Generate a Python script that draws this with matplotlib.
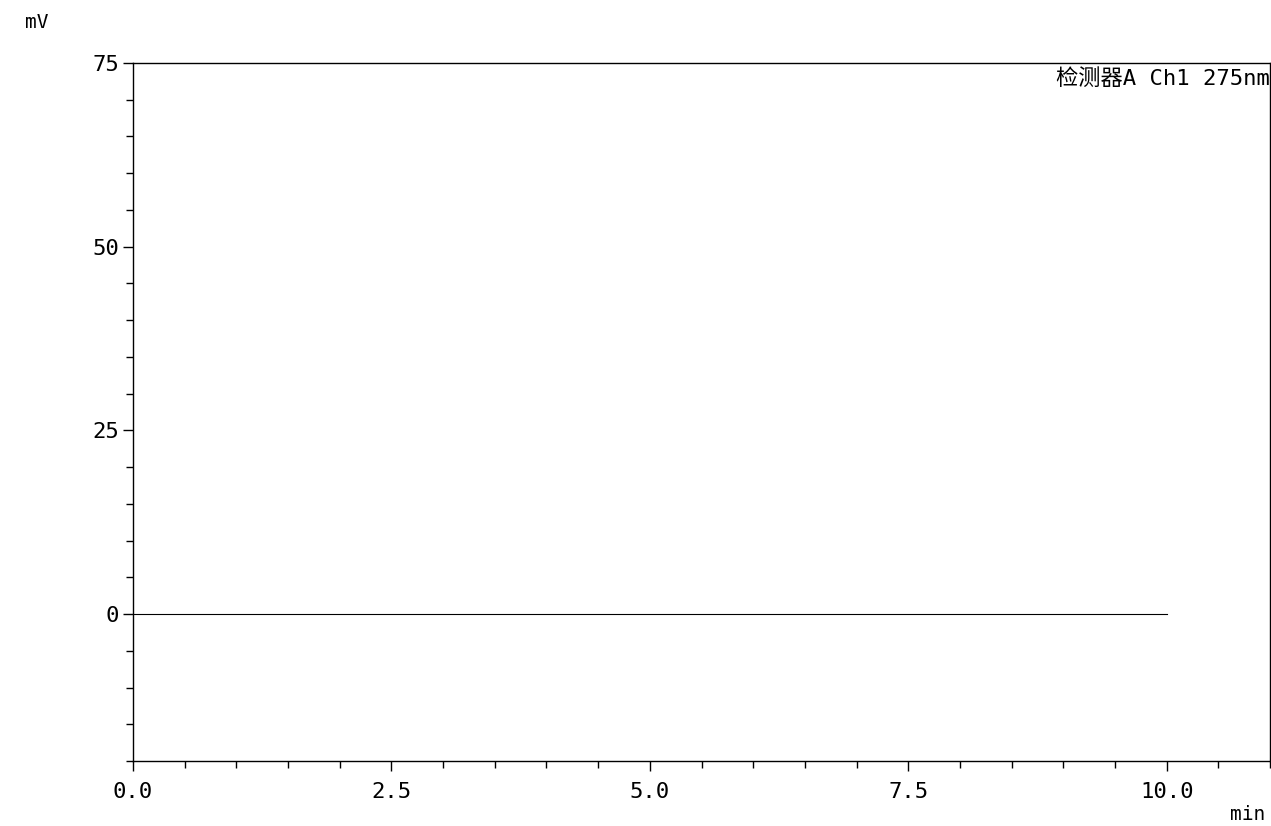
import matplotlib
matplotlib.use("Agg")
import matplotlib.pyplot as plt
from matplotlib.ticker import MultipleLocator, FuncFormatter

time_min = [0.0, 2.5, 5.0, 7.5, 10.0]
signal_mv = [0.0, 0.0, 0.0, 0.0, 0.0]

plt.rcParams['font.family'] = ['DejaVu Sans Mono', 'Noto Sans CJK SC']
fig = plt.figure(figsize=(12.71, 8.26), dpi=100)
ax = fig.add_axes([133/1271, 1-761/826, (1270-133)/1271, (761-63)/826])
ax.plot(time_min, signal_mv, color='black', lw=0.8)
ax.set_xlim(0, 11)
ax.set_ylim(-20, 75)
ax.xaxis.set_major_locator(MultipleLocator(2.5))
ax.xaxis.set_minor_locator(MultipleLocator(0.5))
ax.yaxis.set_major_locator(MultipleLocator(25))
ax.yaxis.set_minor_locator(MultipleLocator(5))
ax.xaxis.set_major_formatter(FuncFormatter(lambda v, p: f"{v:.1f}"))
ax.yaxis.set_major_formatter(FuncFormatter(lambda v, p: f"{v:.0f}"))
ax.tick_params(which='major', length=7, width=1, labelsize=16, pad=3)
ax.tick_params(axis='x', which='major', pad=8)
ax.tick_params(which='minor', length=5, width=1)
for s in ax.spines.values():
    s.set_linewidth(1)
fig.text(25/1271, 1-22/826, "mV", fontsize=14, ha='left', va='center')
fig.text(1248/1271, 1-815/826, "min", fontsize=14, ha='center', va='center')
ax.text(1.0, 0.992, "检测器A Ch1 275nm", transform=ax.transAxes, ha='right', va='top',
        fontsize=16, family=['DejaVu Sans Mono', 'Noto Sans CJK SC'])
fig.savefig("out.png", dpi=100)
